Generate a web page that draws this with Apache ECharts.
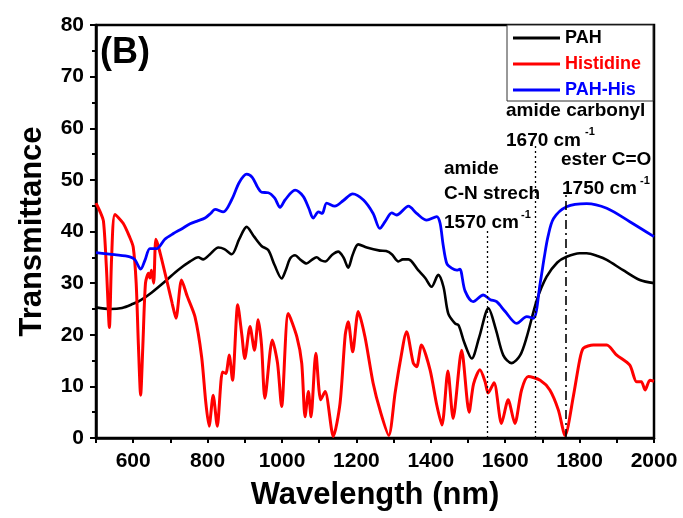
<!DOCTYPE html>
<html>
<head>
<meta charset="utf-8">
<script src="https://cdn.jsdelivr.net/npm/echarts@6/dist/echarts.min.js"></script>
<style>html,body{margin:0;padding:0;background:#fff}#c{width:683px;height:518px}</style>
</head>
<body>
<div id="c"></div>
<script>
// ---- data ----
var pahX = [500,538,570,600,618,650,690,720,753,775,788,805,829,845,865,885,905,925,945,963,980,999,1010,1022,1035,1050,1066,1080,1093,1105,1116,1135,1151,1165,1178,1190,1205,1228,1263,1280,1295,1313,1325,1340,1366,1385,1402,1420,1434,1447,1465,1475,1490,1510,1530,1555,1575,1595,1617,1640,1658,1685,1711,1740,1765,1800,1819,1850,1873,1917,1962,2000];
var pahY = [25.3,25.0,25.2,26.0,26.6,28.2,30.6,32.5,34.2,35.0,34.6,35.5,36.9,36.6,35.6,38.5,40.9,39.0,37.2,36.4,33.5,30.9,32.5,34.8,35.4,34.5,33.8,34.5,35.0,34.4,34.2,35.5,36.1,35.0,33.0,35.5,37.5,36.9,36.3,36.2,35.6,34.2,34.6,34.6,32.5,31.0,29.3,31.6,29.3,24.1,22.2,21.8,18.5,15.4,19.5,25.1,21.0,16.0,14.5,16.0,19.6,26.7,31.2,34.0,35.1,35.8,35.8,35.2,34.5,32.5,30.6,30.0];

var hisX = [500,510,520,528,536,542,551,573,590,600,608,614,620,626,633,641,645,649,655,661,670,690,705,715,730,745,766,784,795,804,815,826,840,849,858,867,881,892,900,914,926,936,945,954,974,988,999,1017,1040,1053,1062,1071,1078,1091,1104,1116,1138,1156,1170,1178,1190,1205,1223,1245,1265,1287,1304,1317,1335,1353,1362,1375,1398,1416,1430,1446,1460,1483,1503,1515,1532,1546,1554,1570,1590,1608,1626,1644,1662,1694,1720,1743,1761,1783,1800,1810,1837,1873,1899,1935,1953,1966,1976,1989,2000];
var hisY = [45.5,44.0,42.0,33.0,21.4,35.0,43.3,41.6,39.0,37.0,30.0,18.0,8.3,18.0,30.0,31.9,31.0,32.5,30.0,38.5,36.5,30.6,26.0,23.2,30.6,27.5,23.5,15.7,7.0,2.3,8.3,2.3,12.8,12.5,16.1,11.2,25.8,20.0,15.4,21.6,17.0,22.9,18.0,7.7,19.0,14.5,6.1,24.1,19.6,14.5,4.1,9.0,4.1,16.4,7.4,9.0,0.3,6.7,20.0,22.5,16.7,24.5,19.6,10.6,5.0,0.5,8.7,14.5,20.6,14.5,13.8,18.0,13.2,6.4,2.5,13.0,3.8,17.0,5.0,10.5,13.2,10.9,8.7,10.7,2.8,7.4,2.8,9.3,11.9,11.2,9.3,5.4,0.5,8.0,15.0,17.4,18.0,18.0,16.1,14.1,10.9,10.9,9.3,11.2,11.0];

var phX = [500,550,591,605,620,632,645,663,685,708,730,753,775,793,808,820,842,865,885,905,920,935,945,963,980,995,1008,1035,1057,1072,1084,1098,1108,1120,1142,1165,1190,1219,1245,1263,1277,1295,1308,1340,1362,1389,1416,1425,1433,1443,1456,1470,1478,1492,1514,1541,1560,1577,1600,1631,1658,1676,1694,1705,1715,1730,1765,1819,1873,1935,2000];
var phY = [35.9,35.5,35.1,34.5,32.7,34.5,36.7,36.7,38.5,39.6,40.5,41.5,42.1,42.6,43.5,44.3,43.8,46.2,49.5,51.1,50.5,48.5,47.6,47.5,46.5,44.7,46.1,48.0,46.8,44.5,42.6,43.8,43.5,45.5,44.9,46.0,47.3,46.1,43.5,40.6,41.9,43.6,43.2,44.9,43.5,42.2,42.9,41.6,37.5,33.8,32.9,32.5,32.7,28.5,26.4,27.7,26.8,26.4,24.5,22.2,23.5,23.2,30.0,35.0,39.0,42.5,44.8,45.4,44.5,41.9,39.0];

var markX = [1553, 1682, 1763];
var markTop = [40.3, 56.8, 47.5];

var xTickLabels = [600,800,1000,1200,1400,1600,1800,2000];
var yTickLabels = [0,10,20,30,40,50,60,70,80];

function zip(a, b) { return a.map(function (v, i) { return [v, b[i]]; }); }

var FONT = '"Liberation Sans", Arial, sans-serif';
var chart = echarts.init(document.getElementById('c'));
var dotted = { type: [2, 3], color: '#000', width: 1.3 };
var dashDot = { type: [9, 4, 2, 4], color: '#000', width: 1.6 };

chart.setOption({
  animation: false,
  backgroundColor: '#fff',
  grid: { left: 96, right: 29, top: 25, bottom: 80, show: true, borderColor: '#000', borderWidth: 2.5, backgroundColor: 'transparent' },
  legend: {
    orient: 'vertical', left: 507, top: 25,
    padding: [4, 12, 2, 6],
    icon: 'rect',
    itemWidth: 47, itemHeight: 3, itemGap: 8,
    borderColor: '#333', borderWidth: 1,
    backgroundColor: '#fff',
    textStyle: { fontFamily: FONT, fontWeight: 'bold', fontSize: 18 },
    data: [
      { name: 'PAH', textStyle: { color: '#000' } },
      { name: 'Histidine', textStyle: { color: '#ff0000' } },
      { name: 'PAH-His', textStyle: { color: '#0000ff' } }
    ]
  },
  xAxis: {
    type: 'value', min: 500, max: 2000, interval: 100,
    name: 'Wavelength (nm)', nameLocation: 'middle', nameGap: 42,
    nameTextStyle: { fontFamily: FONT, fontWeight: 'bold', fontSize: 31, color: '#000' },
    axisLine: { lineStyle: { color: '#000', width: 2.5 } },
    axisTick: { inside: false, length: 5, lineStyle: { color: '#000', width: 2 } },
    axisLabel: {
      margin: 13, fontFamily: FONT, fontWeight: 'bold', fontSize: 21, color: '#000',
      formatter: function (v) { return xTickLabels.indexOf(v) >= 0 ? String(v) : ''; }
    },
    splitLine: { show: false }
  },
  yAxis: {
    type: 'value', min: 0, max: 80, interval: 10,
    name: 'Transmittance', nameLocation: 'middle', nameGap: 48,
    nameTextStyle: { fontFamily: FONT, fontWeight: 'bold', fontSize: 31, color: '#000' },
    axisLine: { lineStyle: { color: '#000', width: 2.5 } },
    axisTick: { inside: false, length: 6, lineStyle: { color: '#000', width: 2 } },
    minorTick: { show: true, splitNumber: 2, length: 4, lineStyle: { color: '#000', width: 2 } },
    axisLabel: {
      margin: 12, fontFamily: FONT, fontWeight: 'bold', fontSize: 21, color: '#000',
      formatter: function (v) { return yTickLabels.indexOf(v) >= 0 ? String(v) : ''; }
    },
    splitLine: { show: false }
  },
  series: [
    {
      name: 'PAH', type: 'line', data: zip(pahX, pahY), symbol: 'none', smooth: 0.3,
      lineStyle: { color: '#000', width: 2.6 }, itemStyle: { color: '#000' },
      markLine: {
        silent: true, symbol: 'none', label: { show: false },
        data: [
          [{ coord: [markX[0], 0], lineStyle: dotted }, { coord: [markX[0], markTop[0]] }],
          [{ coord: [markX[1], 0], lineStyle: dotted }, { coord: [markX[1], markTop[1]] }],
          [{ coord: [markX[2], 0], lineStyle: dashDot }, { coord: [markX[2], markTop[2]] }]
        ]
      }
    },
    {
      name: 'Histidine', type: 'line', data: zip(hisX, hisY), symbol: 'none', smooth: 0.25,
      lineStyle: { color: '#ff0000', width: 3 }, itemStyle: { color: '#ff0000' }
    },
    {
      name: 'PAH-His', type: 'line', data: zip(phX, phY), symbol: 'none', smooth: 0.3,
      lineStyle: { color: '#0000ff', width: 2.8 }, itemStyle: { color: '#0000ff' }
    }
  ],
  graphic: [
    { type: 'text', left: 100, top: 35, style: { text: '(B)', font: 'bold 36px ' + FONT, fill: '#000' } },
    { type: 'text', left: 506, top: 101, style: { text: 'amide carbonyl', font: 'bold 19px ' + FONT, fill: '#000' } },
    { type: 'text', left: 506, top: 131, style: { text: '1670 cm', font: 'bold 19px ' + FONT, fill: '#000' } },
    { type: 'text', left: 585, top: 126, style: { text: '-1', font: 'bold 11px ' + FONT, fill: '#000' } },
    { type: 'text', left: 561, top: 150, style: { text: 'ester C=O', font: 'bold 19px ' + FONT, fill: '#000' } },
    { type: 'text', left: 562, top: 179, style: { text: '1750 cm', font: 'bold 19px ' + FONT, fill: '#000' } },
    { type: 'text', left: 640, top: 175, style: { text: '-1', font: 'bold 11px ' + FONT, fill: '#000' } },
    { type: 'text', left: 444, top: 159, style: { text: 'amide', font: 'bold 19px ' + FONT, fill: '#000' } },
    { type: 'text', left: 444, top: 184, style: { text: 'C-N strech', font: 'bold 19px ' + FONT, fill: '#000' } },
    { type: 'text', left: 444, top: 213, style: { text: '1570 cm', font: 'bold 19px ' + FONT, fill: '#000' } },
    { type: 'text', left: 521, top: 209, style: { text: '-1', font: 'bold 11px ' + FONT, fill: '#000' } }
  ]
});
</script>
</body>
</html>
